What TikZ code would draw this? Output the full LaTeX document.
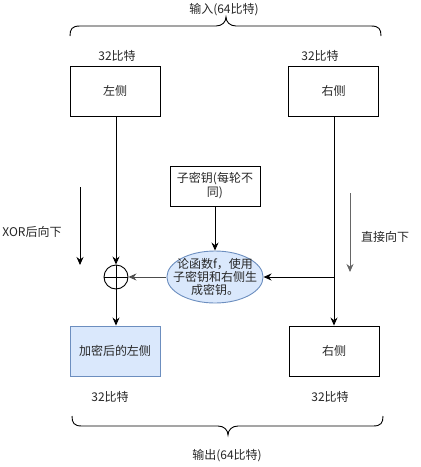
\documentclass[tikz,border=0pt]{standalone}
\usepackage{fontspec}
\setmainfont{Noto Sans CJK SC}
\usetikzlibrary{shapes.geometric,arrows.meta}
\definecolor{bluefill}{HTML}{DAE8FC}
\definecolor{bluestroke}{HTML}{6C8EBF}
\tikzset{
  every node/.style={font=\fontsize{12}{14}\selectfont, text=black!85},
  boxnode/.style={draw, line width=0.9pt, minimum width=90pt, minimum height=50pt, inner sep=0pt, align=center},
  bluebox/.style={boxnode, fill=bluefill, draw=bluestroke},
  conn/.style={line width=0.9pt, -{Stealth[length=8pt,width=7pt]}},
  lbl/.style={inner sep=0pt},
}
\begin{document}
\begin{tikzpicture}[x=1pt,y=-1pt]
\useasboundingbox (0,0) rectangle (421,467);
% top brace
\draw[line width=0.9pt] (70,36) .. controls (70,29) and (72,26) .. (80,26) -- (216,26) .. controls (222,26) and (226,22) .. (226,17) .. controls (226,22) and (230,26) .. (236,26) -- (371,26) .. controls (379,26) and (381,29) .. (381,36);
\node[lbl] (inlbl) at (224,10) {输入(64比特)};
% bottom brace
\draw[line width=0.9pt] (72,416) .. controls (72,423) and (74,426) .. (82,426) -- (218,426) .. controls (224,426) and (228,430) .. (228,435) .. controls (228,430) and (232,426) .. (238,426) -- (373,426) .. controls (381,426) and (383,423) .. (383,416);
\node[lbl] (outlbl) at (227,456) {输出(64比特)};

\node[lbl] (b1) at (117,56) {32比特};
\node[lbl] (b2) at (320,56) {32比特};
\node[lbl] (b3) at (110,397) {32比特};
\node[lbl] (b4) at (330,397) {32比特};

\node[boxnode] (L) at (115,91) {左侧};
\node[boxnode] (R) at (333.5,91) {右侧};
\node[boxnode, minimum width=90pt, minimum height=40pt, text width=86pt] (K) at (215,186) {子密钥(每轮不\\同)};
\node[ellipse, draw=bluestroke, fill=bluefill, line width=0.9pt, minimum width=88pt, minimum height=52pt, inner sep=-8pt, align=center, font=\fontsize{12}{13}\selectfont] (F) at (215,277) {论函数f，使用\\子密钥和右侧生\\成密钥。};
\node[circle, draw, line width=0.9pt, minimum size=24pt, inner sep=0pt] (X) at (116,277) {};
\draw[line width=0.9pt] (X.north) -- (X.south) (X.west) -- (X.east);
\node[bluebox] (L2) at (115,351) {加密后的左侧};
\node[boxnode] (R2) at (334,351) {右侧};

\coordinate (rj) at (334,277);
\draw[conn] (L.south -| X) -- (X.north);
\draw[conn] (X.south) -- (L2.north -| X);
\draw[conn] (R.south -| rj) -- (R2.north -| rj);
\draw[conn] (rj) -- (F.east);
\draw[conn] (K.south) -- (F.north);
\draw[conn, draw=black!70] (F.west) -- (X.east);

\coordinate (xa1) at (80,187);
\coordinate (xa2) at (80,265);
\draw[conn] (xa1) -- (xa2);
\node[lbl] (xl) at (32,232) {XOR后向下};
\coordinate (ra1) at (350,193);
\coordinate (ra2) at (350,272);
\draw[conn, draw=black!60, fill=black!60] (ra1) -- (ra2);
\node[lbl] (rl) at (385,237) {直接向下};
\end{tikzpicture}
\end{document}
